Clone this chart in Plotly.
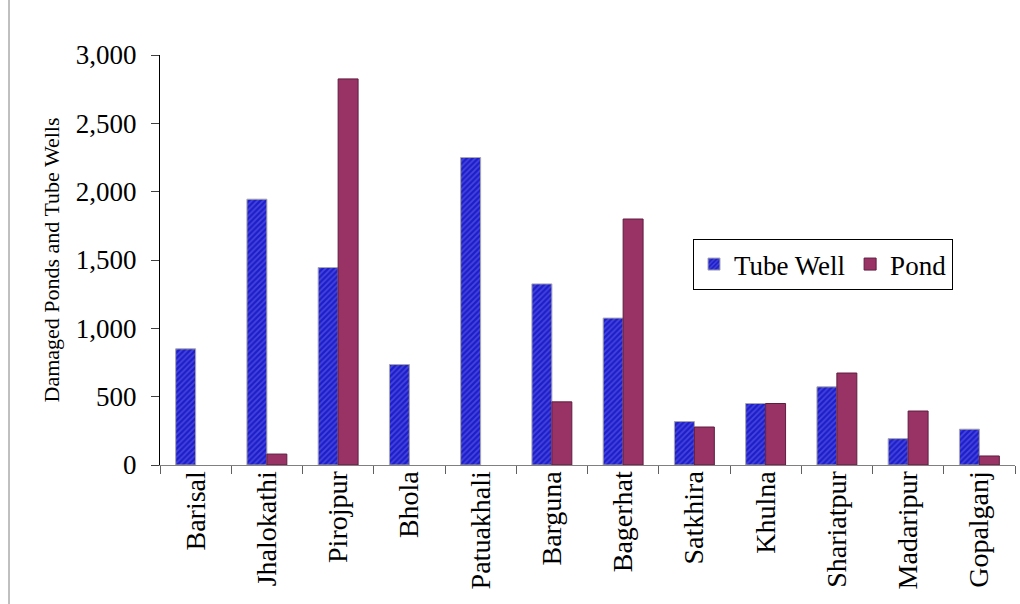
import plotly.graph_objects as go

districts = ["Barisal", "Jhalokathi", "Pirojpur", "Bhola", "Patuakhali", "Barguna",
             "Bagerhat", "Satkhira", "Khulna", "Shariatpur", "Madaripur", "Gopalganj"]
tube_well = [850, 1945, 1445, 735, 2250, 1325, 1075, 318, 450, 572, 193, 262]
pond = [0, 80, 2825, 0, 0, 462, 1800, 278, 450, 673, 395, 66]
y_ticks = [0, 500, 1000, 1500, 2000, 2500, 3000]

FONT = "Liberation Serif"

# zero values are drawn as no bar (as in the reference)
pond_draw = [v if v else None for v in pond]

fig = go.Figure()
fig.add_trace(go.Bar(
    x=districts, y=tube_well, name="Tube Well",
    marker=dict(color="#2424d0",
                line=dict(color="#a8a8a8", width=1),
                pattern=dict(shape="/", fgcolor="#6a6af4", bgcolor="#1e1ec8",
                             size=4, solidity=0.45)),
))
fig.add_trace(go.Bar(
    x=districts, y=pond_draw, name="Pond",
    marker=dict(color="#993366", line=dict(color="#5e1c3e", width=1)),
))

W, H = 1020, 604
L, R, T, B = 160, 5, 55, 139
pw, ph = W - L - R, H - T - B

fig.update_layout(
    width=W, height=H,
    margin=dict(l=L, r=R, t=T, b=B),
    paper_bgcolor="white", plot_bgcolor="white",
    barmode="group", bargap=0.44, bargroupgap=0,
    font=dict(family=FONT, size=27, color="black"),
    showlegend=True,
    legend=dict(
        orientation="h",
        x=(693 - L) / pw, y=(H - B - 239) / ph,
        xanchor="left", yanchor="top",
        bordercolor="black", borderwidth=1, bgcolor="white",
        font=dict(family=FONT, size=27, color="black"),
        tracegroupgap=0,
    ),
    xaxis=dict(
        type="category", tickson="boundaries", ticks="outside", ticklen=8,
        tickcolor="#606060", showline=True, linecolor="#808080", linewidth=1,
        tickangle=-90, showgrid=False, automargin=False, ticklabelstandoff=-6,
        tickfont=dict(family=FONT, size=28, color="black"),
    ),
    yaxis=dict(
        range=[0, 3000], tickvals=y_ticks, tickformat=",",
        ticks="outside", ticklen=8, tickcolor="#404040",
        showline=True, linecolor="black", linewidth=1, showgrid=False, zeroline=False,
        automargin=False, ticklabelstandoff=9,
        tickfont=dict(family=FONT, size=27, color="black"),
        title=dict(text="Damaged Ponds and Tube Wells",
                   font=dict(family=FONT, size=22, color="black"), standoff=10),
    ),
    shapes=[dict(type="line", xref="paper", yref="paper",
                 x0=(9 - L) / pw, x1=(9 - L) / pw,
                 y0=-(B) / ph, y1=(H - B) / ph,
                 line=dict(color="#808080", width=1))],
)

fig.write_html("out.html")
